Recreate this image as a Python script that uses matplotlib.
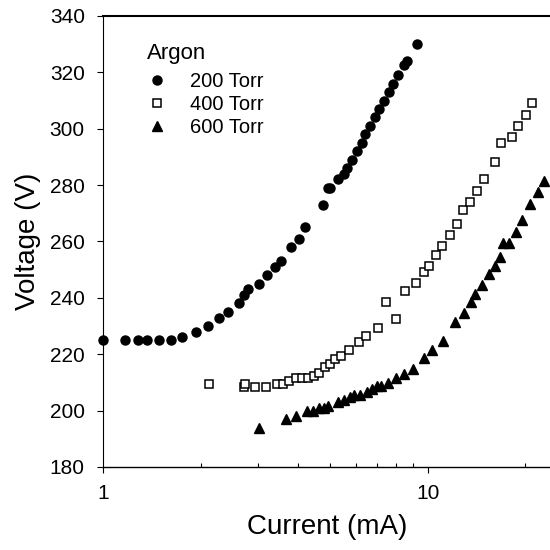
import matplotlib
matplotlib.use("Agg")
import matplotlib.pyplot as plt
from matplotlib.ticker import FixedLocator, NullFormatter

plt.rcParams['font.family'] = ['Liberation Sans', 'DejaVu Sans']

# 200 Torr
i200 = [1.0, 1.17, 1.285, 1.364, 1.489, 1.618, 1.757, 1.932, 2.104, 2.275, 2.426,
        2.629, 2.711, 2.803, 3.016, 3.192, 3.379, 3.543, 3.785, 4.007, 4.182, 4.75,
        4.92, 5.02, 5.29, 5.52, 5.65, 5.84, 6.05, 6.26, 6.41, 6.65, 6.90, 7.10,
        7.33, 7.58, 7.80, 8.12, 8.45, 8.61, 9.25]
v200 = [225, 225, 225, 225, 225, 225, 226, 228, 230, 233, 235,
        238, 241, 243, 245, 248, 251, 253, 258, 261, 265, 273,
        279, 279, 282, 284, 286, 289, 292, 295, 298, 301, 304, 307,
        310, 313, 316, 319, 322.6, 324, 330]

# 400 Torr
i400 = [2.13, 2.711, 2.743, 2.94, 3.185, 3.436, 3.576, 3.75, 3.934, 4.105, 4.271,
        4.457, 4.625, 4.816, 5.019, 5.186, 5.428, 5.715, 6.152, 6.482, 7.043,
        7.47, 7.98, 8.51, 9.23, 9.74, 10.12, 10.61, 11.07, 11.69, 12.29, 12.89,
        13.51, 14.23, 14.89, 16.07, 16.80, 18.13, 18.92, 20.11, 20.89]
v400 = [209.5, 208.3, 209.5, 208.3, 208.3, 209.5, 209.5, 210.5, 211.5, 211.5, 211.5,
        212.4, 213.5, 215.6, 216.4, 218.4, 219.4, 221.4, 224.4, 226.5, 229.4,
        238.4, 232.4, 242.5, 245.4, 249.3, 251.3, 255.2, 258.3, 262.3, 266.2, 271.2,
        274.1, 278, 282.1, 288.1, 295.1, 297, 301, 305, 309]

# 600 Torr
i600 = [3.016, 3.672, 3.941, 4.253, 4.438, 4.618, 4.786, 4.948, 5.286, 5.516,
        5.755, 5.925, 6.212, 6.515, 6.75, 6.995, 7.21, 7.56, 8.01, 8.45, 8.99,
        9.74, 10.34, 11.18, 12.12, 12.94, 13.57, 14.0, 14.68, 15.43, 16.10,
        16.68, 17.08, 17.82, 18.69, 19.5, 20.69, 21.81, 22.86]
v600 = [193.7, 197, 197.9, 200, 200, 200.8, 200.8, 201.8, 203, 203.8,
        204.7, 205.7, 205.7, 206.7, 207.7, 208.7, 208.7, 209.7, 211.7, 212.8, 214.7,
        218.7, 221.5, 224.6, 231.5, 234.5, 238.5, 241.4, 244.5, 248.5, 251.4,
        254.4, 259.4, 259.4, 263.4, 267.6, 273.3, 277.5, 281.6]

labels = ['200 Torr', '400 Torr', '600 Torr']
yticks = [180, 200, 220, 240, 260, 280, 300, 320, 340]

fig = plt.figure(figsize=(5.5, 5.5), dpi=100)
ax = fig.add_axes([0.187, 0.151, 0.815, 0.820])

ax.plot(i200, v200, 'o', ls='none', color='black', ms=6.5, label=labels[0], clip_on=False)
ax.plot(i400, v400, 's', ls='none', mfc='white', mec='black', mew=1.1, ms=5.5, label=labels[1], clip_on=False)
ax.plot(i600, v600, '^', ls='none', color='black', ms=6.8, label=labels[2], clip_on=False)

ax.set_xscale('log')
ax.set_xlim(1, 24)
ax.set_ylim(180, 340)
ax.set_yticks(yticks)
ax.set_xticks([1, 10])
ax.set_xticklabels(['1', '10'])
ax.xaxis.set_minor_locator(FixedLocator([2, 3, 4, 5, 6, 7, 8, 9, 20]))
ax.xaxis.set_minor_formatter(NullFormatter())

ax.tick_params(axis='both', which='major', labelsize=15, length=4, width=0.8, direction='out', pad=9)
ax.tick_params(axis='x', which='minor', length=3, width=0.8, direction='in')
ax.tick_params(axis='x', which='major', pad=8)

ax.spines['right'].set_visible(False)
ax.spines['top'].set_linewidth(1.5)
ax.spines['left'].set_linewidth(0.8)
ax.spines['bottom'].set_linewidth(1.0)

ax.set_xlabel('Current (mA)', fontsize=20, labelpad=8)
ax.set_ylabel('Voltage (V)', fontsize=20, labelpad=6)

leg = ax.legend(title='Argon', loc='upper left', frameon=False, fontsize=14.5,
                title_fontsize=16, handlelength=1.0, handletextpad=1.15,
                labelspacing=0.2, borderpad=0, borderaxespad=0,
                bbox_to_anchor=(0.098, 0.940))
leg._legend_box.align = 'left'
leg._legend_box.sep = 6

fig.savefig('out.png', dpi=100)
